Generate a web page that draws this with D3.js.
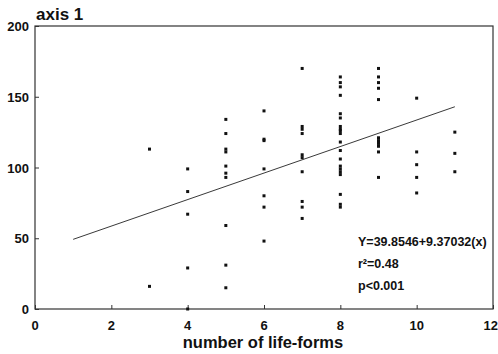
<!DOCTYPE html>
<html>
<head>
<meta charset="utf-8">
<script src="https://cdn.jsdelivr.net/npm/d3@7"></script>
<style>
  body { margin: 0; background: #fff; }
  text { font-family: "Liberation Sans", Arial, sans-serif; font-weight: bold; fill: #111; }
</style>
</head>
<body>
<script>
// number of life-forms (x) and the axis 1 scores found at each
const lifeForms = [3, 4, 5, 6, 7, 8, 9, 10, 11];
const axisScores = [
  [113, 16],
  [99, 83, 67, 29, 0],
  [134, 124, 113, 111, 101, 96, 93, 59, 31, 15],
  [140, 120, 119, 99, 80, 72, 48],
  [170, 129, 127, 124, 109, 107, 97, 76, 72, 64],
  [164, 160, 157, 151, 138, 135, 129, 127, 126, 124, 118, 112, 106, 101, 99, 97, 95, 81, 74, 72],
  [170, 164, 160, 156, 148, 121, 119, 117, 115, 111, 93],
  [149, 111, 102, 93, 82],
  [125, 110, 97]
];
const xTicks = [0, 2, 4, 6, 8, 10, 12];
const yTicks = [0, 50, 100, 150, 200];
const intercept = 39.8546;
const slope = 9.37032;
const fitRange = [1, 11];
const statLines = ["Y=39.8546+9.37032(x)", "r²=0.48", "p<0.001"];

const width = 498, height = 354;
const svg = d3.select('body').append('svg')
  .attr('width', width)
  .attr('height', height);

const x = d3.scaleLinear().domain([0, 12]).range([35, 493]);
const y = d3.scaleLinear().domain([0, 200]).range([309, 26]);

// frame
svg.append('rect')
  .attr('x', x(0)).attr('y', y(200))
  .attr('width', x(12) - x(0)).attr('height', y(0) - y(200))
  .attr('fill', 'none').attr('stroke', '#333').attr('stroke-width', 1.2);

// axes with inward ticks (labels drawn separately)
const xAxis = svg.append('g')
  .attr('transform', 'translate(0,' + y(0) + ')')
  .call(d3.axisTop(x).tickValues(xTicks).tickSize(4));
xAxis.select('.domain').remove();
xAxis.selectAll('text').remove();
xAxis.selectAll('line').attr('stroke', '#333');

const yAxis = svg.append('g')
  .attr('transform', 'translate(' + x(0) + ',0)')
  .call(d3.axisRight(y).tickValues(yTicks).tickSize(4));
yAxis.select('.domain').remove();
yAxis.selectAll('text').remove();
yAxis.selectAll('line').attr('stroke', '#333');

// tick labels
svg.selectAll('.xlab')
  .data(xTicks)
  .enter().append('text')
  .attr('x', d => d === 12 ? 498 : x(d))
  .attr('y', 330)
  .attr('text-anchor', d => d === 12 ? 'end' : 'middle')
  .style('font-size', '13px')
  .text(d => d);

svg.selectAll('.ylab')
  .data(yTicks)
  .enter().append('text')
  .attr('x', 29)
  .attr('y', d => y(d) + 5)
  .attr('text-anchor', 'end')
  .style('font-size', '13px')
  .text(d => d);

svg.append('text')
  .attr('x', 36).attr('y', 20)
  .style('font-size', '17px')
  .text('axis 1');

svg.append('text')
  .attr('x', 263).attr('y', 348)
  .attr('text-anchor', 'middle')
  .style('font-size', '16.5px')
  .text('number of life-forms');

// regression line
const line = d3.line()
  .x(d => x(d))
  .y(d => y(intercept + slope * d));
svg.append('path')
  .datum(fitRange)
  .attr('d', line)
  .attr('fill', 'none')
  .attr('stroke', '#222')
  .attr('stroke-width', 0.9);

// points
const points = [];
lifeForms.forEach((lf, i) => {
  axisScores[i].forEach(v => points.push({ lf: lf, v: v }));
});
svg.selectAll('.pt')
  .data(points)
  .enter().append('rect')
  .attr('x', d => x(d.lf) - 1.5)
  .attr('y', d => y(d.v) - 1.5)
  .attr('width', 3)
  .attr('height', 3)
  .attr('fill', '#111');

// stats
svg.selectAll('.stat')
  .data(statLines)
  .enter().append('text')
  .attr('x', 358)
  .attr('y', (d, i) => 246 + i * 22)
  .style('font-size', '12.5px')
  .text(d => d);
</script>
</body>
</html>
